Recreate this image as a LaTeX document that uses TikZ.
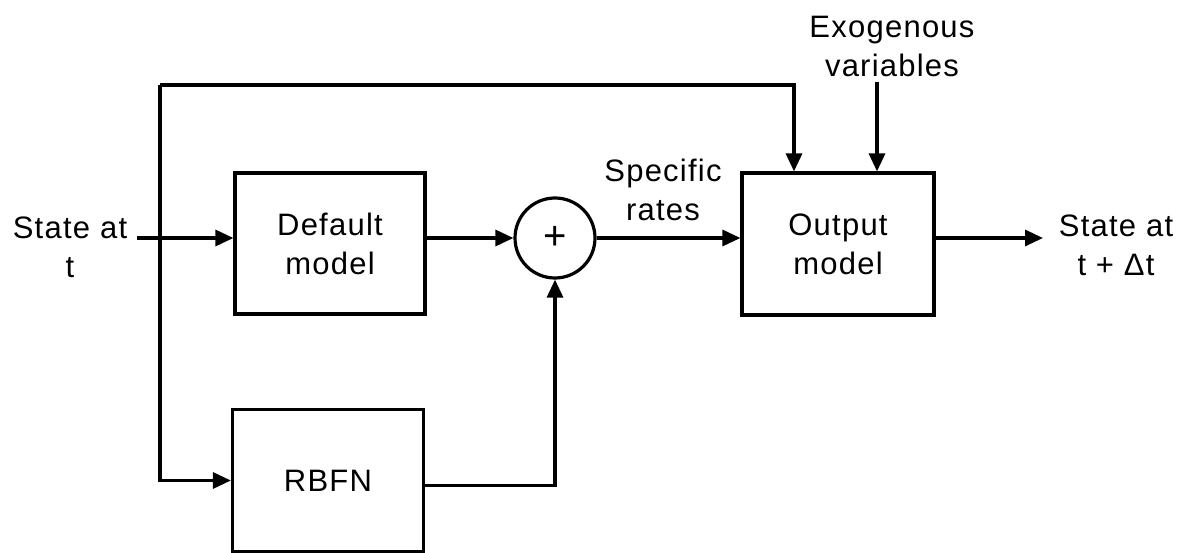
\documentclass[tikz,border=0pt]{standalone}
\usepackage{fontspec}
\setmainfont{Liberation Sans}[LetterSpace=4]
\usetikzlibrary{arrows.meta}
\begin{document}
\begin{tikzpicture}[x=1pt,y=-1pt,
  line width=3.2pt,
  every node/.style={font=\fontsize{31}{39}\selectfont, align=center, inner sep=0pt},
  blk/.style={draw, rectangle, line width=3.2pt},
  arr/.style={-{Triangle[length=18pt,width=16pt]}, line width=3.2pt}]
\useasboundingbox (0,0) rectangle (1183,553);
% blocks
\node[blk, minimum width=190pt, minimum height=141pt] (def) at (330,243.5) {Default\\model};
\node[blk, minimum width=191pt, minimum height=142pt] (rbf) at (328,480.5) {RBFN};
\node[blk, minimum width=192pt, minimum height=142pt] (out) at (838,244) {Output\\model};
\node[draw, circle, minimum size=80pt, line width=3.2pt, font=\fontsize{40}{40}\selectfont] (sum) at (555,238) {+};
% labels
\node (stL) at (70,247) {State at\\t};
\node (stR) at (1116,245) {State at\\t + Δt};
\node (spec) at (663,190) {Specific\\rates};
\node (exo) at (892,46) {Exogenous\\variables};
% coordinates
\coordinate (inS) at (137,238);
\coordinate (tl) at (160,85);
\coordinate (tr) at (794,85);
\coordinate (ex) at (877,82);
\coordinate (oe) at (1043,238);
% connectors
\draw[arr] (inS) -- (inS -| def.west);
\draw[arr] (tl) |- (rbf.west);
\draw[arr] (tl) -- (tr) -- (tr |- out.north);
\draw[arr] (ex) -- (ex |- out.north);
\draw[arr] (sum -| def.east) -- (sum.west);
\draw[arr] (sum.east) -- (sum -| out.west);
\draw[arr] (sum -| out.east) -- (oe);
\draw[arr] ([yshift=-5pt]rbf.east) -| (sum.south);
\end{tikzpicture}
\end{document}
